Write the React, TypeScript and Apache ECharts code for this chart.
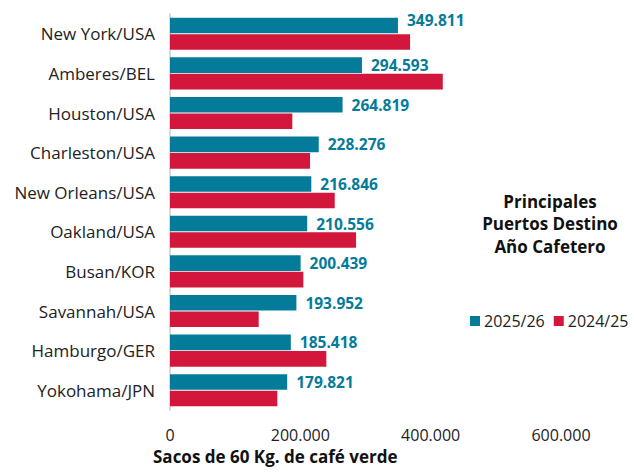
import React, { useEffect, useRef } from "react";
import * as echarts from "echarts";

const categories = [
  "New York/USA",
  "Amberes/BEL",
  "Houston/USA",
  "Charleston/USA",
  "New Orleans/USA",
  "Oakland/USA",
  "Busan/KOR",
  "Savannah/USA",
  "Hamburgo/GER",
  "Yokohama/JPN",
];
const values2025 = [349811, 294593, 264819, 228276, 216846, 210556, 200439, 193952, 185418, 179821];
const values2024 = [368400, 418600, 187700, 214900, 252800, 285500, 204600, 136100, 239900, 164700];
const seriesNames = ["2025/26", "2024/25"];
const xTicks = [0, 200000, 400000, 600000];

const TEAL = "#047C99";
const RED = "#D3173C";
const FONT = "'Open Sans', 'Noto Sans', sans-serif";

const fmt = (v: number) =>
  String(Math.round(v)).replace(/\B(?=(\d{3})+(?!\d))/g, ".");

export default function App() {
  const ref = useRef<HTMLDivElement>(null);
  useEffect(() => {
    document.body.style.margin = "0";
    if (!ref.current) return;
    const chart = echarts.init(ref.current, undefined, { renderer: "svg" });
    chart.setOption({
      animation: false,
      textStyle: { fontFamily: FONT },
      grid: { left: 170, top: 14, right: 73, bottom: 62, containLabel: false },
      legend: {
        data: seriesNames,
        left: 465,
        top: 308,
        width: 200,
        itemWidth: 10,
        itemHeight: 10,
        itemGap: 9,
        icon: "rect",
        textStyle: { fontSize: 16, color: "#222", fontFamily: FONT, padding: [0, 0, 0, -1] },
      },
      xAxis: {
        type: "value",
        min: xTicks[0],
        max: xTicks[xTicks.length - 1],
        interval: 200000,
        axisLine: { show: false },
        axisTick: { show: false },
        splitLine: { show: false },
        axisLabel: {
          fontSize: 16,
          lineHeight: 18,
          color: "#222",
          margin: 16,
          formatter: (v: number) => fmt(v),
        },
      },
      yAxis: {
        type: "category",
        data: categories,
        inverse: true,
        axisTick: { show: false },
        axisLine: { lineStyle: { color: "#d9d9d9", width: 2 } },
        axisLabel: { fontSize: 17, color: "#222", margin: 15 },
      },
      graphic: [
        {
          type: "text",
          left: 153,
          top: 448,
          style: {
            text: "Sacos de 60 Kg. de café verde",
            font: `bold 17px ${FONT}`,
            fill: "#111",
          },
        },
        {
          type: "text",
          x: 550,
          y: 190,
          style: {
            text: "Principales\nPuertos Destino\nAño Cafetero",
            font: `bold 17px ${FONT}`,
            fill: "#111",
            align: "center",
            lineHeight: 22.5,
          },
        },
      ],
      series: [
        {
          name: seriesNames[0],
          type: "bar",
          data: values2025.map((v, i) => ({
            value: v,
            label: i === 0 ? { offset: [0, -6] } : undefined,
          })),
          barGap: "6%",
          barCategoryGap: "19%",
          itemStyle: { color: TEAL },
          label: {
            show: true,
            position: "right",
            distance: 9,
            color: TEAL,
            fontWeight: "bold",
            fontSize: 15.5,
            formatter: (p: any) => fmt(p.value),
          },
        },
        {
          name: seriesNames[1],
          type: "bar",
          data: values2024,
          barGap: "6%",
          barCategoryGap: "19%",
          itemStyle: { color: RED },
        },
      ],
    });
    return () => chart.dispose();
  }, []);
  return <div ref={ref} style={{ width: 634, height: 472 }} />;
}
